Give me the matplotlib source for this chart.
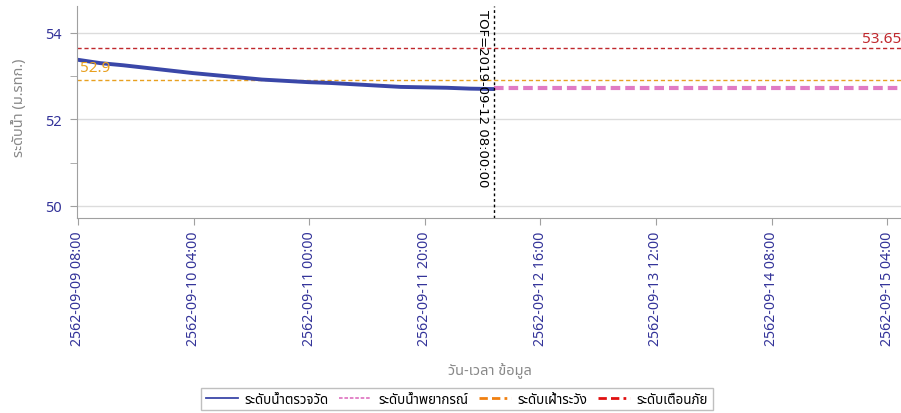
import matplotlib
matplotlib.use("Agg")
import matplotlib.pyplot as plt
from matplotlib import font_manager
from matplotlib.lines import Line2D
from datetime import datetime, timedelta

# ---------------- data ----------------
obs_start = datetime(2019, 9, 9, 7, 50)
obs_hours = [0, 4, 8, 12, 16, 20, 24, 28, 32, 36, 40, 44, 48, 52, 56, 60, 64, 68, 72.2]
obs_values = [53.38, 53.30, 53.25, 53.19, 53.13, 53.07, 53.02, 52.97, 52.92, 52.89,
              52.86, 52.84, 52.81, 52.78, 52.75, 52.74, 52.73, 52.71, 52.70]
fc_times = ["2019-09-12 08:00", "2019-09-15 06:30"]
fc_values = [52.72, 52.72]
watch_level = 52.9
warn_level = 53.65
tof_time = "2019-09-12 08:00"
tof_label = "TOF=2019-09-12 08:00:00"
tick_times = ["2019-09-09 08:00", "2019-09-10 04:00", "2019-09-11 00:00", "2019-09-11 20:00",
              "2019-09-12 16:00", "2019-09-13 12:00", "2019-09-14 08:00", "2019-09-15 04:00"]
tick_labels = ["2562-09-09 08:00", "2562-09-10 04:00", "2562-09-11 00:00", "2562-09-11 20:00",
               "2562-09-12 16:00", "2562-09-13 12:00", "2562-09-14 08:00", "2562-09-15 04:00"]
legend_labels = ["ระดับน้ำตรวจวัด", "ระดับน้ำพยากรณ์", "ระดับเฝ้าระวัง", "ระดับเตือนภัย"]
y_label = "ระดับน้ำ (ม.รทก.)"
x_label = "วัน-เวลา ข้อมูล"

# ---------------- fonts ----------------
avail = {f.name for f in font_manager.fontManager.ttflist}
cands = ["Tahoma", "Noto Sans Thai", "Noto Sans Thai UI", "Loma", "Garuda", "Sarabun",
         "Tlwg Typo", "Norasi", "Kinnari", "Waree", "DejaVu Sans"]
fams = [c for c in cands if c in avail] or ["DejaVu Sans"]
if "DejaVu Sans" not in fams:
    fams.append("DejaVu Sans")
plt.rcParams["font.family"] = fams

def p(s):
    return datetime.strptime(s, "%Y-%m-%d %H:%M")

obs_t = [obs_start + timedelta(hours=h) for h in obs_hours]
fc_t = [p(s) for s in fc_times]
ticks = [p(s) for s in tick_times]

fig = plt.figure(figsize=(9.01, 4.14), dpi=100)
ax = fig.add_axes([77 / 901, 1 - 219 / 414, 1 - 77 / 901, (219 - 7) / 414])

xmin = datetime(2019, 9, 9, 7, 50)
xmax = datetime(2019, 9, 15, 6, 24)
ax.set_xlim(xmin, xmax)
ax.set_ylim(49.72, 54.62)

navy = "#333399"
gray = "#a0a0a0"

ax.set_yticks([50, 52, 54])
ax.set_yticks([51, 53], minor=True)
ax.yaxis.grid(True, which="major", color="#dcdcdc", lw=1)
ax.set_axisbelow(True)
ax.tick_params(axis="y", which="both", length=5, color=gray, labelcolor=navy, labelsize=10.5, pad=6)
ax.set_xticks(ticks)
ax.set_xticklabels(tick_labels, rotation=90, color=navy, fontsize=10.2)
ax.tick_params(axis="x", length=5, color=gray, pad=4)

for s in ["top", "right"]:
    ax.spines[s].set_visible(False)
for s in ["left", "bottom"]:
    ax.spines[s].set_color(gray)

ax.axhline(warn_level, color="#c0282d", lw=1, ls=(0, (3, 2)))
ax.axhline(watch_level, color="#e8a020", lw=1, ls=(0, (3, 2)))
ax.plot(fc_t, fc_values, color="#e07bc4", lw=3, ls=(0, (2.3, 1.2)), solid_capstyle="butt")
ax.plot(obs_t, obs_values, color="#3a47a8", lw=2.8, solid_capstyle="butt")

ax.axvline(p(tof_time), color="black", lw=1, ls=(0, (2, 2)))
ax.text(p(tof_time) - timedelta(hours=0.9), 54.55, tof_label, rotation=-90,
        ha="right", va="top", fontsize=9.5, color="black", family=["DejaVu Sans"])

ax.text(xmax, warn_level + 0.05, "%g" % warn_level, color="#c0282d", fontsize=11,
        ha="right", va="bottom", clip_on=False)
ax.text(xmin + timedelta(hours=0.5), watch_level + 0.12, "%g" % watch_level, color="#e8a020",
        fontsize=11, ha="left", va="bottom")

fig.text(20 / 901, 1 - 108 / 414, y_label, rotation=90, ha="center", va="center",
         color="#888888", fontsize=10.5)
fig.text(490 / 901, 1 - 371 / 414, x_label, ha="center", va="center",
         color="#888888", fontsize=10.5)

handles = [
    Line2D([], [], color="#3a47a8", lw=1.3),
    Line2D([], [], color="#e07bc4", lw=1.3, ls=(0, (2, 1))),
    Line2D([], [], color="#f08010", lw=2, ls=(0, (3, 1.5, 3, 1.5, 1, 1.5))),
    Line2D([], [], color="#e01010", lw=2, ls=(0, (3, 1.5, 3, 1.5, 1, 1.5))),
]
leg = fig.legend(handles, legend_labels, loc="upper center", bbox_to_anchor=(457 / 901, 1 - 389 / 414),
                 ncol=4, fontsize=9.6, frameon=True, fancybox=False, edgecolor="#b0b0b0",
                 handlelength=2.4, handletextpad=0.5, columnspacing=0.8, borderpad=0.35,
                 borderaxespad=0)
leg.get_frame().set_linewidth(1)

fig.savefig("out.png", dpi=100)
